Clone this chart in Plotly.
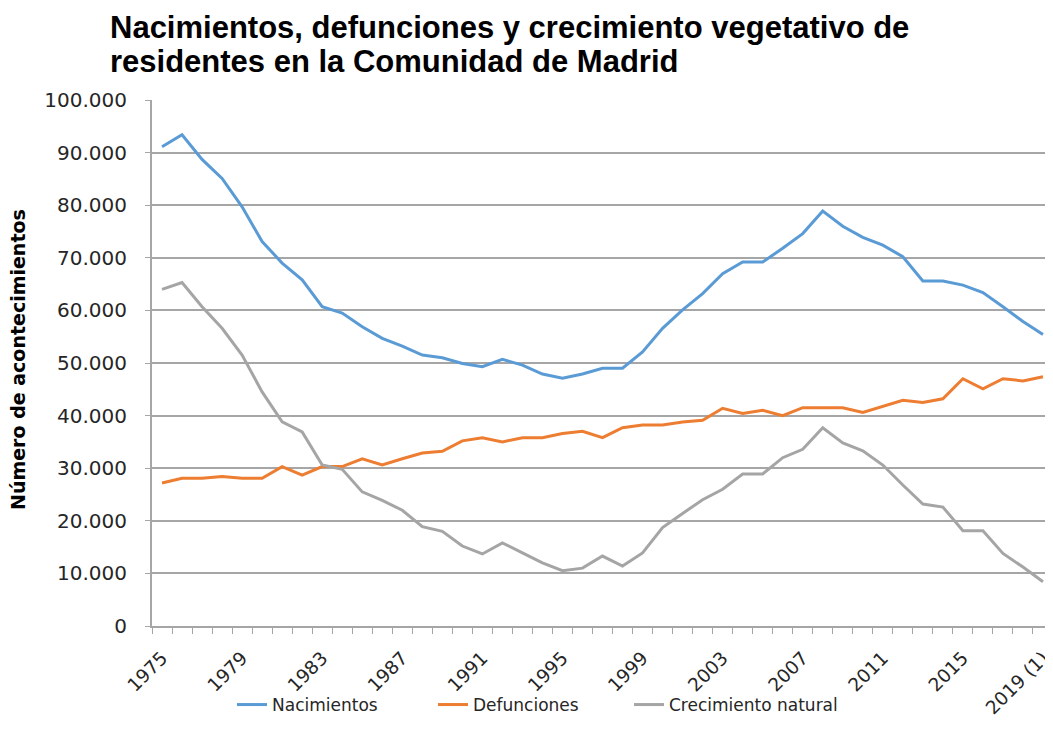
import plotly.graph_objects as go

years = ["1975", "1976", "1977", "1978", "1979", "1980", "1981", "1982", "1983", "1984",
         "1985", "1986", "1987", "1988", "1989", "1990", "1991", "1992", "1993", "1994",
         "1995", "1996", "1997", "1998", "1999", "2000", "2001", "2002", "2003", "2004",
         "2005", "2006", "2007", "2008", "2009", "2010", "2011", "2012", "2013", "2014",
         "2015", "2016", "2017", "2018", "2019 (1)"]

nacimientos = [91100, 93400, 88700, 85100, 79700, 73100, 69000, 65800, 60700, 59500,
               56900, 54700, 53200, 51500, 51000, 49900, 49300, 50700, 49600, 47900,
               47100, 47900, 49000, 49000, 52100, 56600, 60100, 63200, 67000, 69200,
               69200, 71800, 74600, 78900, 76000, 73900, 72400, 70200, 65600, 65600,
               64800, 63400, 60700, 57900, 55400]

defunciones = [27200, 28100, 28100, 28400, 28100, 28100, 30300, 28700, 30300, 30300,
               31800, 30600, 31800, 32900, 33200, 35200, 35800, 35000, 35800, 35800,
               36600, 37000, 35800, 37700, 38200, 38200, 38800, 39100, 41400, 40400,
               41000, 40000, 41500, 41500, 41500, 40600, 41800, 42900, 42500, 43200,
               47000, 45100, 47000, 46600, 47400]

crecimiento = [64000, 65300, 60700, 56600, 51500, 44500, 38800, 36900, 30600, 29800,
               25500, 23900, 22000, 18900, 18000, 15200, 13700, 15800, 13900, 12000,
               10500, 11000, 13300, 11400, 13900, 18700, 21400, 24000, 26000, 28900,
               28900, 32000, 33600, 37700, 34800, 33300, 30600, 26800, 23200, 22600,
               18100, 18100, 13800, 11200, 8400]

title_lines = ["Nacimientos, defunciones y crecimiento vegetativo de",
               "residentes en la Comunidad de Madrid"]
y_title = "Número de acontecimientos"

label_every = 4
tick_text = [y if i % label_every == 0 else "" for i, y in enumerate(years)]

series = [
    ("Nacimientos", nacimientos, "#5B9BD5", "legend"),
    ("Defunciones", defunciones, "#ED7D31", "legend2"),
    ("Crecimiento natural", crecimiento, "#A5A5A5", "legend3"),
]

# The page body has an 8px margin, so figure coords = window coords - 8
OFF = 8
W, H = 1053 - OFF, 742 - OFF
L, T = 152 - OFF, 100 - OFF
PB = 626 - OFF          # plot bottom (fig coords)
B = H - PB
PH = PB - T

fig = go.Figure()
for name, vals, color, lg in series:
    fig.add_trace(go.Scatter(x=years, y=vals, name=name, mode="lines", legend=lg,
                             line=dict(color=color, width=3)))

leg_font = dict(family="DejaVu Sans", size=17, color="#262626")
leg_y = 1 - (705 - OFF) / H


def leg(text_start):
    return dict(orientation="h", xref="container", x=(text_start - 41 - OFF) / W,
                xanchor="left", yref="container", y=leg_y, yanchor="middle",
                font=leg_font, bgcolor="rgba(0,0,0,0)")


def py(win_y):
    return (PB - (win_y - OFF)) / PH


annotations = [
    dict(text="<b>" + title_lines[0] + "</b>", xref="paper", x=0, xshift=(108 - 152),
         xanchor="left", yref="paper", y=py(27), yanchor="middle",
         showarrow=False, font=dict(family="Liberation Sans", size=31, color="black")),
    dict(text="<b>" + title_lines[1] + "</b>", xref="paper", x=0, xshift=(108 - 152),
         xanchor="left", yref="paper", y=py(61), yanchor="middle",
         showarrow=False, font=dict(family="Liberation Sans", size=31, color="black")),
    dict(text="<b>" + y_title + "</b>", textangle=-90,
         xref="paper", x=0, xshift=18 - 152, xanchor="center",
         yref="paper", y=py(360), yanchor="middle", showarrow=False,
         font=dict(family="DejaVu Sans", size=19, color="black")),
]

fig.update_layout(
    width=W, height=H,
    margin=dict(l=L, r=0, t=T, b=B, pad=0, autoexpand=False),
    paper_bgcolor="white", plot_bgcolor="white",
    separators=",.",
    font=dict(family="DejaVu Sans", color="#262626"),
    showlegend=True,
    legend=leg(273), legend2=leg(474), legend3=leg(670),
    xaxis=dict(
        type="category", range=[-0.5, 44.5], automargin=False,
        tickmode="array", tickvals=years, ticktext=tick_text,
        tickson="boundaries", ticks="outside", ticklen=6, tickcolor="#a6a6a6",
        tickangle=-45, ticklabelstandoff=12,
        tickfont=dict(family="DejaVu Sans", size=18.5, color="#262626"),
        showgrid=False, showline=True, linecolor="#a6a6a6", linewidth=2,
        zeroline=False, fixedrange=True,
    ),
    yaxis=dict(
        range=[0, 100000], dtick=10000, tickformat=",d", automargin=False,
        showgrid=True, gridcolor="#a6a6a6", gridwidth=2,
        showline=True, linecolor="#a6a6a6", linewidth=2,
        ticks="outside", ticklen=5, tickcolor="#a6a6a6", ticklabelstandoff=14,
        tickfont=dict(family="DejaVu Sans", size=20, color="#262626"),
        zeroline=False, fixedrange=True,
    ),
    annotations=annotations,
)

fig.write_html("out.html")
